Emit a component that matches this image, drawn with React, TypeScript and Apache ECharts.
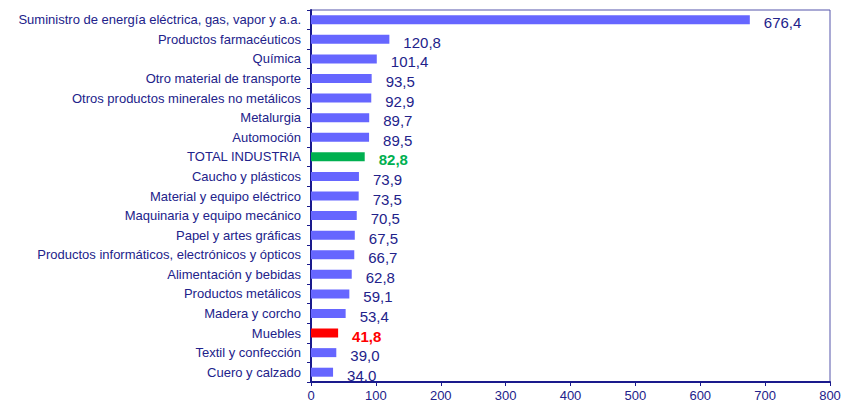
import React, { useEffect, useRef } from "react";
import * as echarts from "echarts";

const categories = [
  "Suministro de energía eléctrica, gas, vapor y a.a.",
  "Productos farmacéuticos",
  "Química",
  "Otro material de transporte",
  "Otros productos minerales no metálicos",
  "Metalurgia",
  "Automoción",
  "TOTAL INDUSTRIA",
  "Caucho y plásticos",
  "Material y equipo eléctrico",
  "Maquinaria y equipo mecánico",
  "Papel y artes gráficas",
  "Productos informáticos, electrónicos y ópticos",
  "Alimentación y bebidas",
  "Productos metálicos",
  "Madera y corcho",
  "Muebles",
  "Textil y confección",
  "Cuero y calzado",
];

const values = [
  676.4, 120.8, 101.4, 93.5, 92.9, 89.7, 89.5, 82.8, 73.9, 73.5, 70.5, 67.5,
  66.7, 62.8, 59.1, 53.4, 41.8, 39.0, 34.0,
];

const highlights: Record<string, string> = {
  "TOTAL INDUSTRIA": "#00B050",
  Muebles: "#FF0000",
};

const TEXT = "#22228a";
const BAR = "#6666FF";
const FONT = "Liberation Sans, Arial, sans-serif";

export default function App() {
  const ref = useRef<HTMLDivElement>(null);
  useEffect(() => {
    if (!ref.current) return;
    const chart = echarts.init(ref.current, null, { renderer: "svg" });
    const data = categories.map((c, i) => {
      const hc = highlights[c];
      return hc
        ? {
            value: values[i],
            itemStyle: { color: hc },
            label: { color: hc, fontWeight: "bold" as const },
          }
        : { value: values[i] };
    });
    chart.setOption({
      animation: false,
      grid: {
        left: 311,
        right: 14,
        top: 10,
        bottom: 23,
        show: true,
        borderColor: "#5555aa",
        borderWidth: 1,
      },
      xAxis: {
        type: "value",
        min: 0,
        max: 800,
        interval: 100,
        splitLine: { show: false },
        axisLine: { show: true, lineStyle: { color: "#1a1a8c", width: 2 } },
        axisTick: { show: true, length: 4, lineStyle: { color: "#1a1a8c" } },
        axisLabel: {
          color: TEXT,
          fontFamily: FONT,
          fontSize: 13,
          margin: 7,
        },
      },
      yAxis: {
        type: "category",
        data: categories,
        inverse: true,
        axisLine: { show: true, lineStyle: { color: "#1a1a8c", width: 2 } },
        axisTick: { show: true, length: 4, lineStyle: { color: "#1a1a8c" } },
        axisLabel: {
          color: TEXT,
          fontFamily: FONT,
          fontSize: 13,
          margin: 10,
        },
      },
      series: [
        {
          type: "bar",
          data,
          barWidth: 9,
          itemStyle: { color: BAR },
          label: {
            show: true,
            position: "right",
            distance: 14,
            offset: [0, 3],
            color: TEXT,
            fontFamily: FONT,
            fontSize: 15,
            formatter: (p: any) => Number(p.value).toFixed(1).replace(".", ","),
          },
        },
      ],
    });
    return () => chart.dispose();
  }, []);
  return (
    <div
      ref={ref}
      style={{ position: "absolute", left: 0, top: 0, width: 844, height: 405 }}
    />
  );
}
